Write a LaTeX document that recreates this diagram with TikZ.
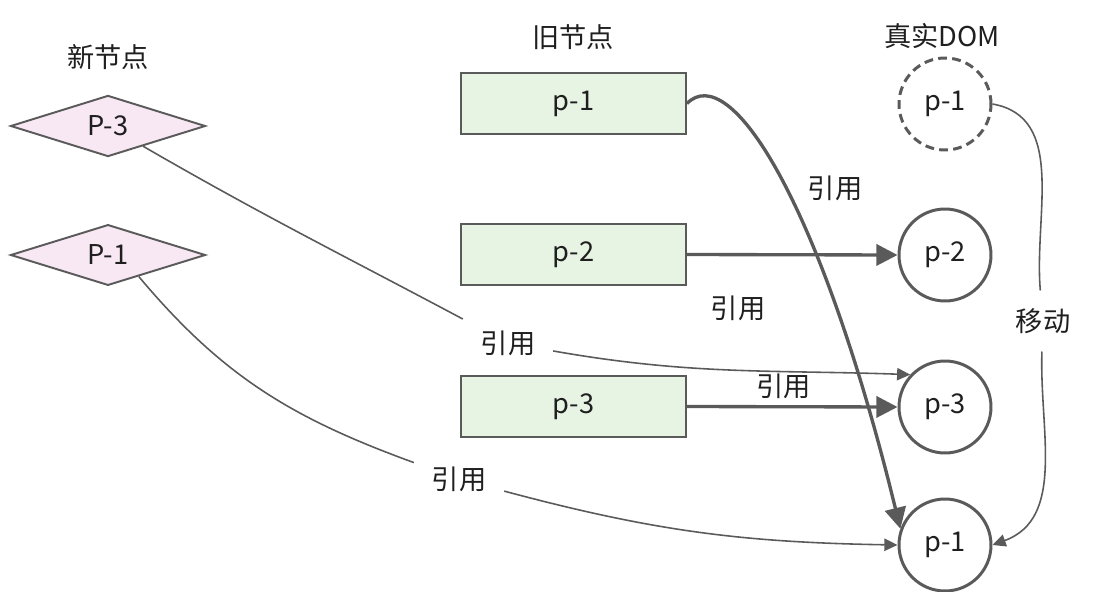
\documentclass[tikz,border=0pt]{standalone}
\usepackage{fontspec}
\setmainfont{Noto Sans CJK SC}
\usepackage{tikz}
\usetikzlibrary{arrows.meta,positioning,shapes.geometric}
\definecolor{lineedge}{HTML}{5A5A5A}
\definecolor{newfill}{HTML}{F8E8F3}
\definecolor{oldfill}{HTML}{E7F4E3}
\colorlet{textcol}{black!88}

\begin{document}
\begin{tikzpicture}[
      x=0.02cm, y=0.02cm,
      font=\fontsize{15.5}{18}\selectfont,
      newnode/.style={diamond, draw=lineedge, fill=newfill, line width=1.1pt,
                      minimum width=3.9cm, minimum height=1.2cm, inner sep=0pt,
                      text=textcol},
      oldnode/.style={draw=lineedge, fill=oldfill, line width=1.1pt,
                      minimum width=4.5cm, minimum height=1.22cm, text=textcol},
      domnode/.style={circle, draw=lineedge, line width=1.7pt,
                      minimum size=1.84cm, inner sep=0pt, text=textcol},
      head/.style={text=textcol},
      lab/.style={text=textcol},
      breaklab/.style={text=textcol, inner sep=10pt},
      arr/.style={-{Triangle[length=12pt, width=12pt]}, line width=1.9pt,
                  draw=lineedge},
      refarr/.style={-{Triangle[length=7.5pt, width=7pt]}, line width=0.9pt,
                     draw=lineedge}
    ]
    \useasboundingbox (0,0) rectangle (1093,-592);

    % column titles
    \node[head] (newtitle) at (108,-57) {新节点};
    \node[head] (oldtitle) at (573,-37) {旧节点};
    \node[head] (domtitle) at (942,-36) {真实DOM};

    % new vnodes
    \node[newnode] (np3) at (108,-126) {P-3};
    \node[newnode] (np1) at (108,-255) {P-1};

    % old vnodes
    \node[oldnode] (op1) at (573.5,-103.5) {p-1};
    \node[oldnode] (op2) at (573.5,-254.5) {p-2};
    \node[oldnode] (op3) at (573.5,-406.5) {p-3};

    % real dom
    \node[domnode, dash pattern=on 5pt off 3pt] (dp1old) at (945,-104) {p-1};
    \node[domnode] (dp2) at (945,-255) {p-2};
    \node[domnode] (dp3) at (945,-407) {p-3};
    \node[domnode] (dp1) at (945,-545) {p-1};

    % labels that break the thin lines
    \node[breaklab] (cut3) at (508,-343) {引用};
    \node[breaklab] (cut1) at (459,-479) {引用};
    \node[breaklab] (move) at (1043,-321) {移动};

    \draw[arr] (op1.east) .. controls (730,-60) and (820,-200) .. (dp1.160);
    \node[lab] (ref1) at (835,-188) {引用};
    \draw[arr] (op2.east) -- (dp2.west);
    \node[lab] (ref2) at (738,-308) {引用};
    \draw[arr] (op3.east) -- node[lab, above, pos=0.46] (ref3) {引用} (dp3.west);

    \draw[refarr] (np3.-30) to[out=-30, in=152] (cut3)
                            to[out=-10, in=178] (dp3.137);
    \draw[refarr] (np1.-35) to[out=-50, in=160] (cut1)
                            to[out=-15, in=179] (dp1.west);
    \draw[refarr] (dp1old.east) to[out=-10, in=95] (move)
                               to[out=-92, in=20] (dp1.east);
  \end{tikzpicture}
\end{document}
